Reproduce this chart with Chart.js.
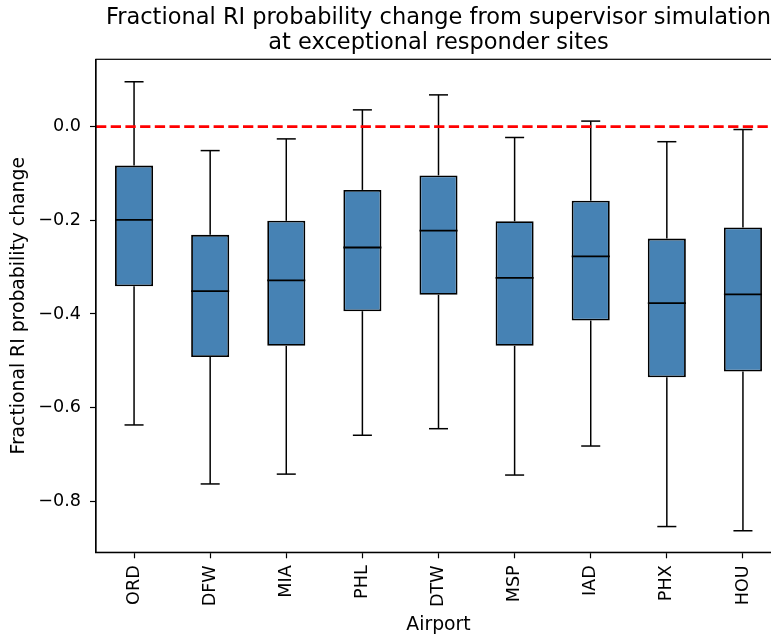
<!DOCTYPE html>
<html>
<head>
<meta charset="utf-8">
<style>
  body { margin: 0; overflow: hidden; background: #fff; }
</style>
</head>
<body>
<canvas id="myChart" width="800" height="636"></canvas>

<script src="https://cdn.jsdelivr.net/npm/chart.js"></script>

<script>
const ctx = document.getElementById('myChart');

// box plot summaries per airport
const airports = ['ORD', 'DFW', 'MIA', 'PHL', 'DTW', 'MSP', 'IAD', 'PHX', 'HOU'];
const whiskerHigh = [0.096, -0.051, -0.026, 0.036, 0.068, -0.023, 0.012, -0.032, -0.006];
const q3 = [-0.083, -0.231, -0.201, -0.135, -0.104, -0.202, -0.158, -0.239, -0.215];
const medians = [-0.199, -0.351, -0.328, -0.258, -0.222, -0.323, -0.277, -0.377, -0.358];
const q1 = [-0.341, -0.492, -0.468, -0.394, -0.359, -0.468, -0.414, -0.535, -0.523];
const whiskerLow = [-0.637, -0.763, -0.742, -0.659, -0.645, -0.744, -0.682, -0.854, -0.863];

const yTicks = [-0.8, -0.6, -0.4, -0.2, 0.0];
const zeroLevel = 0.0;
const titleLines = [
  'Fractional RI probability change from supervisor simulation',
  'at exceptional responder sites'
];

const FONT = 'DejaVu Sans';

// whiskers, caps, medians, the dashed zero line, the frame and the title
const boxExtras = {
  id: 'boxExtras',
  afterDatasetsDraw(chart) {
    const c = chart.ctx;
    const area = chart.chartArea;
    const y = chart.scales.y;
    const meta = chart.getDatasetMeta(0);

    const seg = (x1, y1, x2, y2) => {
      c.beginPath();
      c.moveTo(x1, y1);
      c.lineTo(x2, y2);
      c.stroke();
    };

    c.save();
    c.strokeStyle = '#000';
    c.lineCap = 'butt';
    meta.data.forEach((bar, i) => {
      const cx = bar.x;
      const half = bar.width / 2;
      const cap = bar.width / 4;
      c.lineWidth = 1.5;
      seg(cx, y.getPixelForValue(q3[i]), cx, y.getPixelForValue(whiskerHigh[i]));
      seg(cx, y.getPixelForValue(q1[i]), cx, y.getPixelForValue(whiskerLow[i]));
      seg(cx - cap, y.getPixelForValue(whiskerHigh[i]), cx + cap, y.getPixelForValue(whiskerHigh[i]));
      seg(cx - cap, y.getPixelForValue(whiskerLow[i]), cx + cap, y.getPixelForValue(whiskerLow[i]));
      c.lineWidth = 1.8;
      seg(cx - half, y.getPixelForValue(medians[i]), cx + half, y.getPixelForValue(medians[i]));
    });

    // dashed reference line
    const y0 = y.getPixelForValue(zeroLevel);
    c.strokeStyle = '#ff0000';
    c.lineWidth = 2.8;
    c.setLineDash([10.3, 4.4]);
    seg(area.left, y0, area.right, y0);
    c.setLineDash([]);

    // axes frame
    c.strokeStyle = '#000';
    c.lineWidth = 1.2;
    c.strokeRect(area.left, area.top, area.right - area.left, area.bottom - area.top);
    c.restore();
  },
  afterDraw(chart) {
    const c = chart.ctx;
    const area = chart.chartArea;
    const cx = (area.left + area.right) / 2;
    c.save();
    c.fillStyle = '#000';
    c.font = '22.5px "' + FONT + '"';
    c.textAlign = 'center';
    c.textBaseline = 'alphabetic';
    c.fillText(titleLines[0], cx, 23.5);
    c.fillText(titleLines[1], cx, 49);
    c.restore();
  }
};

new Chart(ctx, {
  type: 'bar',
  data: {
    labels: airports,
    datasets: [{
      data: q1.map((v, i) => [v, q3[i]]),
      backgroundColor: '#4682b4',
      borderColor: '#000',
      borderWidth: 1.8,
      borderSkipped: false,
      barPercentage: 0.5,
      categoryPercentage: 1.0
    }]
  },
  options: {
    responsive: false,
    devicePixelRatio: 1,
    animation: false,
    layout: {
      padding: { top: 59.3, right: 19, bottom: 0, left: 0 }
    },
    plugins: {
      legend: { display: false },
      tooltip: { enabled: false },
      title: { display: false }
    },
    scales: {
      x: {
        type: 'category',
        offset: true,
        afterFit: (scale) => { scale.height = 83.7; },
        grid: {
          display: true,
          offset: false,
          drawOnChartArea: false,
          tickLength: 6,
          tickWidth: 1.2,
          color: '#000',
          tickColor: '#000'
        },
        border: { display: true, color: '#000', width: 1.2 },
        ticks: {
          minRotation: 90,
          maxRotation: 90,
          autoSkip: false,
          padding: 7,
          color: '#000',
          font: { family: FONT, size: 17.6 }
        },
        title: {
          display: true,
          text: 'Airport',
          color: '#000',
          padding: { top: 0, bottom: 0 },
          font: { family: FONT, size: 18.8 }
        }
      },
      y: {
        min: -0.909,
        max: 0.144,
        afterFit: (scale) => { scale.width = 96; },
        afterBuildTicks: (scale) => {
          scale.ticks = yTicks.map(v => ({ value: v }));
        },
        grid: {
          display: true,
          drawOnChartArea: false,
          tickLength: 6,
          tickWidth: 1.2,
          color: '#000',
          tickColor: '#000'
        },
        border: { display: true, color: '#000', width: 1.2 },
        ticks: {
          padding: 9,
          color: '#000',
          font: { family: FONT, size: 17.6 },
          callback: (v) => Number(v).toFixed(1).replace('-', '\u2212')
        },
        title: {
          display: true,
          text: 'Fractional RI probability change',
          color: '#000',
          padding: { top: 7.7, bottom: 0 },
          font: { family: FONT, size: 18.8 }
        }
      }
    }
  },
  plugins: [boxExtras]
});
</script>
</body>
</html>
